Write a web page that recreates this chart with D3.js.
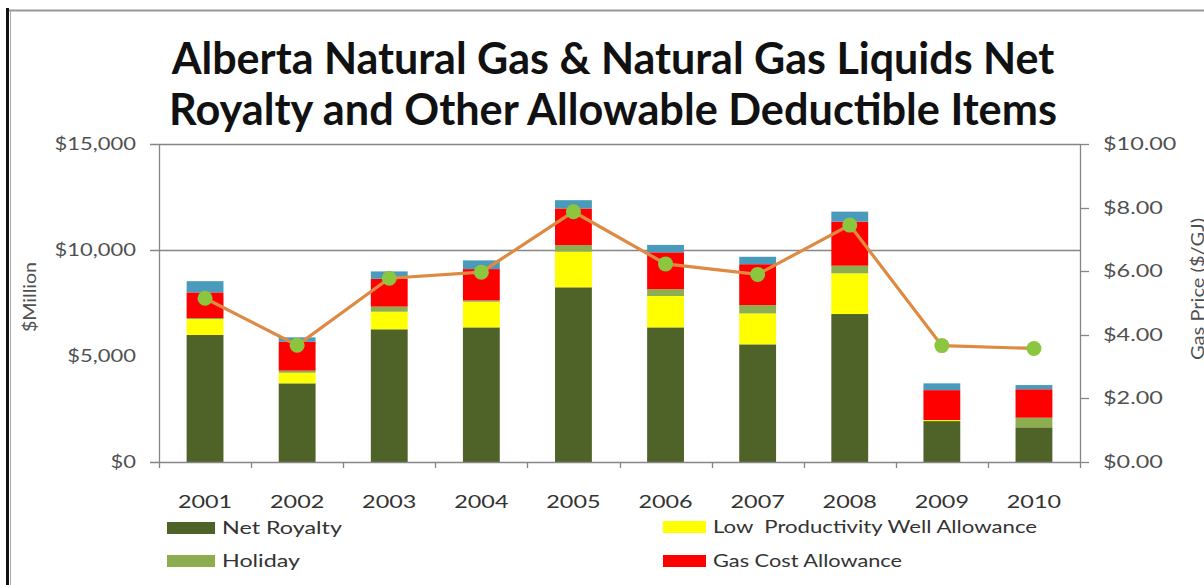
<!DOCTYPE html>
<html lang="en">
<head>
  <meta charset="utf-8">
  <title>Alberta Natural Gas Net Royalty</title>
  <script type="text/javascript" src="https://d3js.org/d3.v7.min.js"></script>
  <style type="text/css">
    body { margin: 0; background: #fff; }
    text { font-family: Lato, "Open Sans", sans-serif; }
  </style>
</head>
<body>
<script type="text/javascript">

// data ($ million, price in $/GJ)
var years = ["2001", "2002", "2003", "2004", "2005", "2006", "2007", "2008", "2009", "2010"];
var netRoyalty = [5990, 3710, 6260, 6350, 8240, 6350, 5550, 6980, 1930, 1635];
var lowProd    = [750, 500, 830, 1210, 1680, 1480, 1460, 1920, 50, 0];
var holiday    = [50, 100, 240, 60, 310, 320, 390, 360, 0, 455];
var gasCost    = [1210, 1360, 1310, 1480, 1730, 1740, 1930, 2080, 1410, 1340];
var other      = [530, 210, 350, 410, 390, 350, 350, 470, 320, 200];
var gasPrice   = [5.15, 3.67, 5.78, 5.97, 7.87, 6.23, 5.90, 7.45, 3.66, 3.57];
var leftTicks  = [0, 5000, 10000, 15000];
var rightTicks = [0, 2, 4, 6, 8, 10];

var width = 1204, height = 585;
var pLeft = 159, pRight = 1080, pTop = 144, pBottom = 462;

var keys = ["net", "low", "hol", "gca", "oth"];
var colors = {net: "#4f6228", low: "#ffff00", hol: "#8cae4e", gca: "#ff0000", oth: "#4a9bbb"};

var table = years.map(function(yr, i) {
  return {year: yr, net: netRoyalty[i], low: lowProd[i], hol: holiday[i], gca: gasCost[i], oth: other[i]};
});

// the source picture is stretched sideways, so stretch the small texts too
function stretch(sel, k) {
  sel.each(function() {
    var l = this.getComputedTextLength();
    d3.select(this).attr("textLength", l * k).attr("lengthAdjust", "spacingAndGlyphs");
  });
}

var svg = d3.select("body").append("svg")
    .attr("width", width)
    .attr("height", height);

// outer chart border (cut by the crop)
svg.append("line").attr("x1", 7.5).attr("x2", 7.5).attr("y1", 8).attr("y2", height)
    .attr("stroke", "#111").attr("stroke-width", 3);
svg.append("line").attr("x1", 10.5).attr("x2", 10.5).attr("y1", 10).attr("y2", height)
    .attr("stroke", "#aaa").attr("stroke-width", 1);
svg.append("line").attr("x1", 9).attr("x2", width).attr("y1", 10.5).attr("y2", 10.5)
    .attr("stroke", "#999").attr("stroke-width", 2);

var x = d3.scaleBand().domain(years).range([pLeft, pRight]).paddingInner(0.6).paddingOuter(0.3);
var y = d3.scaleLinear().domain([0, 15000]).range([pBottom, pTop]);
var y2 = d3.scaleLinear().domain([0, 10]).range([pBottom, pTop]);
var step = x.step();
var gray = "#868686";

// gridlines
svg.selectAll(".grid").data([10000, 15000]).enter().append("line")
    .attr("x1", pLeft - 9).attr("x2", pRight)
    .attr("y1", function(d) { return Math.round(y(d)) + 0.5; })
    .attr("y2", function(d) { return Math.round(y(d)) + 0.5; })
    .attr("stroke", gray).attr("stroke-width", 1.3);

// stacked bars
var series = d3.stack().keys(keys)(table);
svg.append("g").selectAll("g").data(series).enter().append("g")
    .attr("fill", function(d) { return colors[d.key]; })
  .selectAll("rect").data(function(d) { return d; }).enter().append("rect")
    .attr("x", function(d) { return x(d.data.year); })
    .attr("width", x.bandwidth())
    .attr("y", function(d) { return y(d[1]); })
    .attr("height", function(d) { return y(d[0]) - y(d[1]); });

// axes
svg.append("line").attr("x1", pLeft + 0.5).attr("x2", pLeft + 0.5).attr("y1", pTop).attr("y2", pBottom)
    .attr("stroke", gray).attr("stroke-width", 1.3);
svg.append("line").attr("x1", pRight + 0.5).attr("x2", pRight + 0.5).attr("y1", pTop).attr("y2", pBottom)
    .attr("stroke", gray).attr("stroke-width", 1.3);
svg.append("line").attr("x1", pLeft - 9).attr("x2", pRight).attr("y1", pBottom + 0.5).attr("y2", pBottom + 0.5)
    .attr("stroke", gray).attr("stroke-width", 1.3);

// category tick marks on band boundaries
var bounds = years.map(function(d) { return x(d) - step * 0.3; }).concat([pRight]);
svg.selectAll(".xt").data(bounds).enter().append("line")
    .attr("x1", function(d) { return Math.round(d) + 0.5; })
    .attr("x2", function(d) { return Math.round(d) + 0.5; })
    .attr("y1", pBottom).attr("y2", pBottom + 6)
    .attr("stroke", gray).attr("stroke-width", 1.3);

// right axis ticks
svg.selectAll(".rt").data(rightTicks).enter().append("line")
    .attr("x1", pRight).attr("x2", pRight + 9)
    .attr("y1", function(d) { return Math.round(y2(d)) + 0.5; })
    .attr("y2", function(d) { return Math.round(y2(d)) + 0.5; })
    .attr("stroke", gray).attr("stroke-width", 1.3);

var fmtL = d3.format("$,");
svg.selectAll(".ll").data(leftTicks).enter().append("text")
    .attr("x", 136).attr("y", function(d) { return y(d) + 6; })
    .attr("text-anchor", "end").attr("font-size", 18).attr("fill", "#505050")
    .text(function(d) { return fmtL(d); })
    .call(stretch, 1.22);

svg.selectAll(".rl").data(rightTicks).enter().append("text")
    .attr("x", 1103).attr("y", function(d) { return y2(d) + 6; })
    .attr("font-size", 18).attr("fill", "#505050")
    .text(function(d) { return "$" + d.toFixed(2); })
    .call(stretch, 1.3);

svg.selectAll(".yr").data(years).enter().append("text")
    .attr("x", function(d) { return x(d) + x.bandwidth() / 2; })
    .attr("y", 508)
    .attr("text-anchor", "middle").attr("font-size", 18).attr("fill", "#333")
    .text(function(d) { return d; })
    .call(stretch, 1.3);

svg.append("text")
    .attr("transform", "translate(36,297) rotate(-90)")
    .attr("text-anchor", "middle").attr("font-size", 17).attr("fill", "#505050")
    .attr("textLength", 70).attr("lengthAdjust", "spacingAndGlyphs")
    .text("$Million");

svg.append("text")
    .attr("transform", "translate(1204,289) rotate(-90)")
    .attr("text-anchor", "middle").attr("font-size", 17).attr("fill", "#505050")
    .attr("textLength", 142).attr("lengthAdjust", "spacingAndGlyphs")
    .text("Gas Price ($/GJ)");

// gas price line
var line = d3.line()
    .x(function(d, i) { return x(years[i]) + x.bandwidth() / 2; })
    .y(function(d) { return y2(d); });

svg.append("path").datum(gasPrice)
    .attr("d", line)
    .attr("fill", "none").attr("stroke", "#de8a42").attr("stroke-width", 3.2);

svg.selectAll(".dot").data(gasPrice).enter().append("circle")
    .attr("cx", function(d, i) { return x(years[i]) + x.bandwidth() / 2; })
    .attr("cy", function(d) { return y2(d); })
    .attr("r", 7.5)
    .attr("fill", "#8cc63f");

// title, scaled to the width it takes in the picture
var titles = [
  {t: "Alberta Natural Gas & Natural Gas Liquids Net", y: 74, w: 883},
  {t: "Royalty and Other Allowable Deductible Items", y: 125, w: 888}
];
titles.forEach(function(d) {
  var t = svg.append("text")
      .attr("x", 613).attr("y", d.y)
      .attr("text-anchor", "middle").attr("font-weight", "bold")
      .attr("font-size", 36).attr("fill", "#111")
      .text(d.t);
  var len = t.node().getComputedTextLength();
  t.attr("font-size", 36 * d.w / len);
});

// legend (text widths as in the picture)
var legend = [
  {name: "Net Royalty", key: "net", x: 167, y: 522, tx: 55, w: 120},
  {name: "Holiday", key: "hol", x: 167, y: 555, tx: 55, w: 78},
  {name: "Low  Productivity Well Allowance", key: "low", x: 663, y: 521, tx: 50, w: 324},
  {name: "Gas Cost Allowance", key: "gca", x: 663, y: 555, tx: 50, w: 189}
];
var lg = svg.selectAll(".lg").data(legend).enter().append("g")
    .attr("transform", function(d) { return "translate(" + d.x + "," + d.y + ")"; });
lg.append("rect").attr("width", function(d) { return d.tx - 7; }).attr("height", 12)
    .attr("fill", function(d) { return colors[d.key]; });
lg.append("text").attr("x", function(d) { return d.tx; }).attr("y", 12)
    .attr("font-size", 18).attr("fill", "#333")
    .style("white-space", "pre")
    .attr("textLength", function(d) { return d.w; })
    .attr("lengthAdjust", "spacingAndGlyphs")
    .text(function(d) { return d.name; });

</script>
</body>
</html>
